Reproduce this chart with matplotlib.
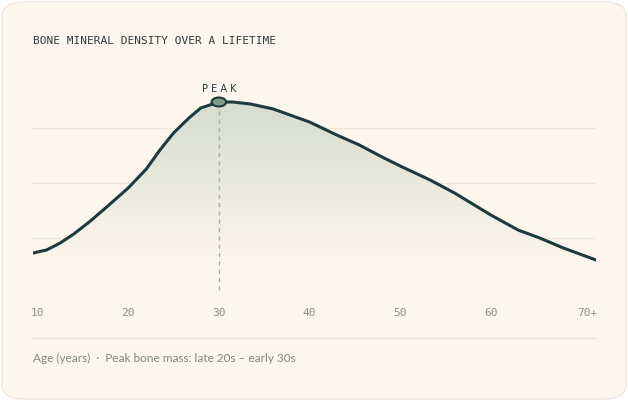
import matplotlib
matplotlib.use("Agg")
import matplotlib.pyplot as plt
import numpy as np
from matplotlib.patches import FancyBboxPatch, Ellipse, Polygon
from matplotlib.colors import LinearSegmentedColormap

ages = [9.5, 11, 12.5, 14, 15.7, 17.5, 20, 22, 23.5, 25, 26.7, 28, 30, 31.5, 33.5, 36, 40, 43, 45.5, 48, 50, 53.3, 56, 60, 63, 65.4, 68, 71.6]
density = [47, 50, 57, 66, 78, 92, 112, 131, 150, 167, 182, 192, 198, 198, 196, 191, 178, 165, 155, 143, 134, 120, 107, 85, 70, 62, 52, 40]
tick_pos = [10, 20, 30, 40, 50, 60, 70]
tick_labels = ["10", "20", "30", "40", "50", "60", "70+"]
peak_age, peak_val = 30, 198

W, H = 628, 401
fig = plt.figure(figsize=(6.28, 4.01), dpi=100)
fig.patch.set_facecolor("white")
card = FancyBboxPatch((2/W, 2/H), 624/W, 397/H, boxstyle="round,pad=0,rounding_size=0.035",
                      transform=fig.transFigure, fc="#fdf6ec", ec="#efe6da", lw=1, zorder=-5)
fig.patches.append(card)

def px(x): return x / W
def py(y): return 1 - y / H

ax = fig.add_axes([px(33), py(300), px(596) - px(33), (300 - 80) / H])
ax.set_zorder(2)
ax.set_xlim(9.5, 71.6)
ax.set_ylim(0, 220)
ax.set_facecolor("none")
for s in ax.spines.values():
    s.set_visible(False)
ax.set_xticks([]); ax.set_yticks([])

for g in [300 - 128, 300 - 183, 300 - 238]:
    ax.axhline(g, color="#ece7da", lw=1, zorder=0)

base = 36
grad = np.linspace(0, 1, 256).reshape(-1, 1)
cmap = LinearSegmentedColormap.from_list("g", ["#fdf6ec", "#d5dccf"])
im = ax.imshow(grad, extent=[9.5, 71.6, base, 200], origin="lower", cmap=cmap, aspect="auto", zorder=1)
verts = [(ages[0], base)] + list(zip(ages, density)) + [(ages[-1], base)]
poly = Polygon(verts, closed=True, transform=ax.transData, fc="none", ec="none")
ax.add_patch(poly)
im.set_clip_path(poly)
ax.set_xlim(9.5, 71.6); ax.set_ylim(0, 220)

ax.plot(ages, density, color="#1d3a3e", lw=2.2, zorder=3, solid_capstyle="round")
ax.plot([peak_age, peak_age], [10, peak_val], color="#a9aea6", lw=1, ls=(0, (3, 3)), zorder=2)
ax.add_patch(Ellipse((peak_age, peak_val), 1.6, 9, fc="#7d9c8a", ec="#1d3a3e", lw=1.5, zorder=4))
ax.text(peak_age, peak_val + 8, "P E A K", ha="center", va="bottom", fontsize=7, color="#1d3a3e",
        family="DejaVu Sans")

for t, l in zip(tick_pos, tick_labels):
    tx = t if l != "70+" else 70.6
    ax.text(tx, 300 - 313, l, ha="center", va="center", fontsize=8, color="#8a8f88",
            family="DejaVu Sans Mono", clip_on=False)

fig.text(px(33), py(41), "BONE MINERAL DENSITY OVER A LIFETIME", fontsize=8, color="#2f3b3a",
         family="DejaVu Sans Mono", va="center")
fig.add_artist(plt.Line2D([px(33), px(596)], [py(338), py(338)], color="#ebe4d8", lw=1))
fig.text(px(33), py(358), "Age (years)  ·  Peak bone mass: late 20s – early 30s", fontsize=8.5,
         color="#80877f", family="Lato", va="center")

fig.savefig("out.png", dpi=100, facecolor="white")
